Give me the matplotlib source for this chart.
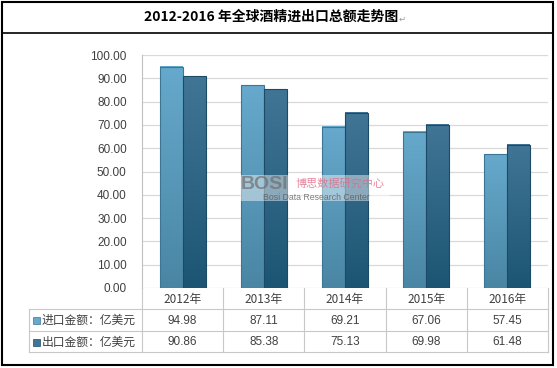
import matplotlib.pyplot as plt
import numpy as np
from matplotlib.lines import Line2D
from matplotlib.patches import Rectangle

plt.rcParams['font.family'] = ['Noto Sans CJK SC', 'DejaVu Sans']

# 数据
years = ['2012年', '2013年', '2014年', '2015年', '2016年']
import_vals = [94.98, 87.11, 69.21, 67.06, 57.45]
export_vals = [90.86, 85.38, 75.13, 69.98, 61.48]
series_names = ['进口金额：亿美元', '出口金额：亿美元']
title = '2012-2016 年全球酒精进出口总额走势图'

W, H = 557, 368
fig = plt.figure(figsize=(W / 100, H / 100), dpi=100)


def fx(px):
    return px / W


def fy(py):
    return 1 - py / H


# 绘图区
left, right, top, bottom = 142, 548, 55, 288
ax = fig.add_axes([fx(left), fy(bottom), fx(right) - fx(left), fy(top) - fy(bottom)])

# 渐变柱子
bw = 0.283
styles = [('#66a9cc', '#4a86a4', '#3d7594'), ('#417596', '#1c5573', '#1d4a66')]
for k, vals in enumerate([import_vals, export_vals]):
    c_top, c_bot, c_edge = styles[k]
    cmap = plt.matplotlib.colors.LinearSegmentedColormap.from_list('g%d' % k, [c_bot, c_top])
    offset = -bw / 2 if k == 0 else bw / 2
    for i, v in enumerate(vals):
        x0 = i + offset - bw / 2
        grad = np.linspace(0, 1, 100).reshape(-1, 1)
        ax.imshow(grad, cmap=cmap, origin='lower', aspect='auto',
                  extent=(x0, x0 + bw, 0, v), zorder=2)
        ax.add_patch(Rectangle((x0, 0), bw, v, fill=False, edgecolor=c_edge,
                               linewidth=0.8, zorder=3))
ax.set_xlim(-0.5, len(years) - 0.5)
ax.set_ylim(0, 100)

# 网格和坐标轴
num_font = ['Liberation Sans', 'DejaVu Sans']
ax.set_yticks(np.arange(0, 101, 10))
ax.set_yticklabels(['%.2f' % t for t in np.arange(0, 101, 10)], fontsize=8.5,
                   color='#404040', family=num_font)
ax.tick_params(axis='y', length=0, pad=11)
ax.set_xticks([])
ax.grid(axis='y', color='#d9d9d9', linewidth=0.9, zorder=0)
ax.set_axisbelow(True)
for s in ['top', 'right', 'bottom']:
    ax.spines[s].set_visible(False)
ax.spines['left'].set_color('#bfbfbf')
ax.spines['left'].set_linewidth(0.8)

# 数据表
line_c = '#c8c8c8'
for y in [309, 331, 352]:
    fig.add_artist(Line2D([fx(29), fx(548)], [fy(y), fy(y)], color=line_c, lw=0.8))
fig.add_artist(Line2D([fx(29), fx(29)], [fy(309), fy(352)], color=line_c, lw=0.8))
xt = ax.get_xaxis_transform()
hpx = bottom - top
for i in range(len(years) + 1):
    ax.plot([i - 0.5, i - 0.5], [0, -(352 - bottom) / hpx], transform=xt,
            color=line_c, lw=0.8, clip_on=False)


def row_y(py):
    return -(py - bottom) / hpx


for i, yr in enumerate(years):
    ax.text(i, row_y(299), yr, transform=xt, ha='center', va='center',
            fontsize=8.5, color='#404040')
    ax.text(i, row_y(320.5), '%.2f' % import_vals[i], transform=xt, ha='center',
            va='center', fontsize=8.5, color='#404040', family=num_font)
    ax.text(i, row_y(342), '%.2f' % export_vals[i], transform=xt, ha='center',
            va='center', fontsize=8.5, color='#404040', family=num_font)

for k, (name, yy) in enumerate(zip(series_names, [320.5, 342])):
    fig.add_artist(Rectangle((fx(33), fy(yy + 3.5)), fx(7), fy(0) - fy(7),
                             facecolor=styles[k][0], edgecolor=styles[k][2], lw=0.5))
    fig.text(fx(42), fy(yy), name, ha='left', va='center', fontsize=8.5, color='#404040')

# 水印（半透明底）
fig.add_artist(Rectangle((fx(240), fy(201)), fx(150), fy(0) - fy(26),
                         facecolor='white', edgecolor='none', alpha=0.45))
fig.text(fx(241), fy(185), 'BOSI', fontsize=14, fontweight='bold', color='#6f6f6f',
         alpha=0.7, ha='left', va='center', family=num_font)
fig.text(fx(296), fy(184), '博思数据研究中心', fontsize=8, color='#e06a86',
         alpha=0.8, ha='left', va='center')
fig.text(fx(263), fy(197.5), 'Bosi Data Research Center', fontsize=6.3, color='#555555',
         alpha=0.75, ha='left', va='center', family=num_font)

# 标题和外框
fig.text(fx(398), fy(17), title, ha='right', va='center', fontsize=10,
         fontweight='bold', color='black')
fig.text(fx(399), fy(19), '↵', ha='left', va='center', fontsize=6, color='#999999',
         family=['DejaVu Sans'])
fig.add_artist(Rectangle((fx(2), fy(365)), fx(551), fy(0) - fy(363), fill=False,
                         edgecolor='black', lw=1.5))
fig.add_artist(Line2D([fx(2), fx(553)], [fy(33), fy(33)], color='black', lw=1.2))

plt.savefig('out.png', dpi=100)
plt.close()
